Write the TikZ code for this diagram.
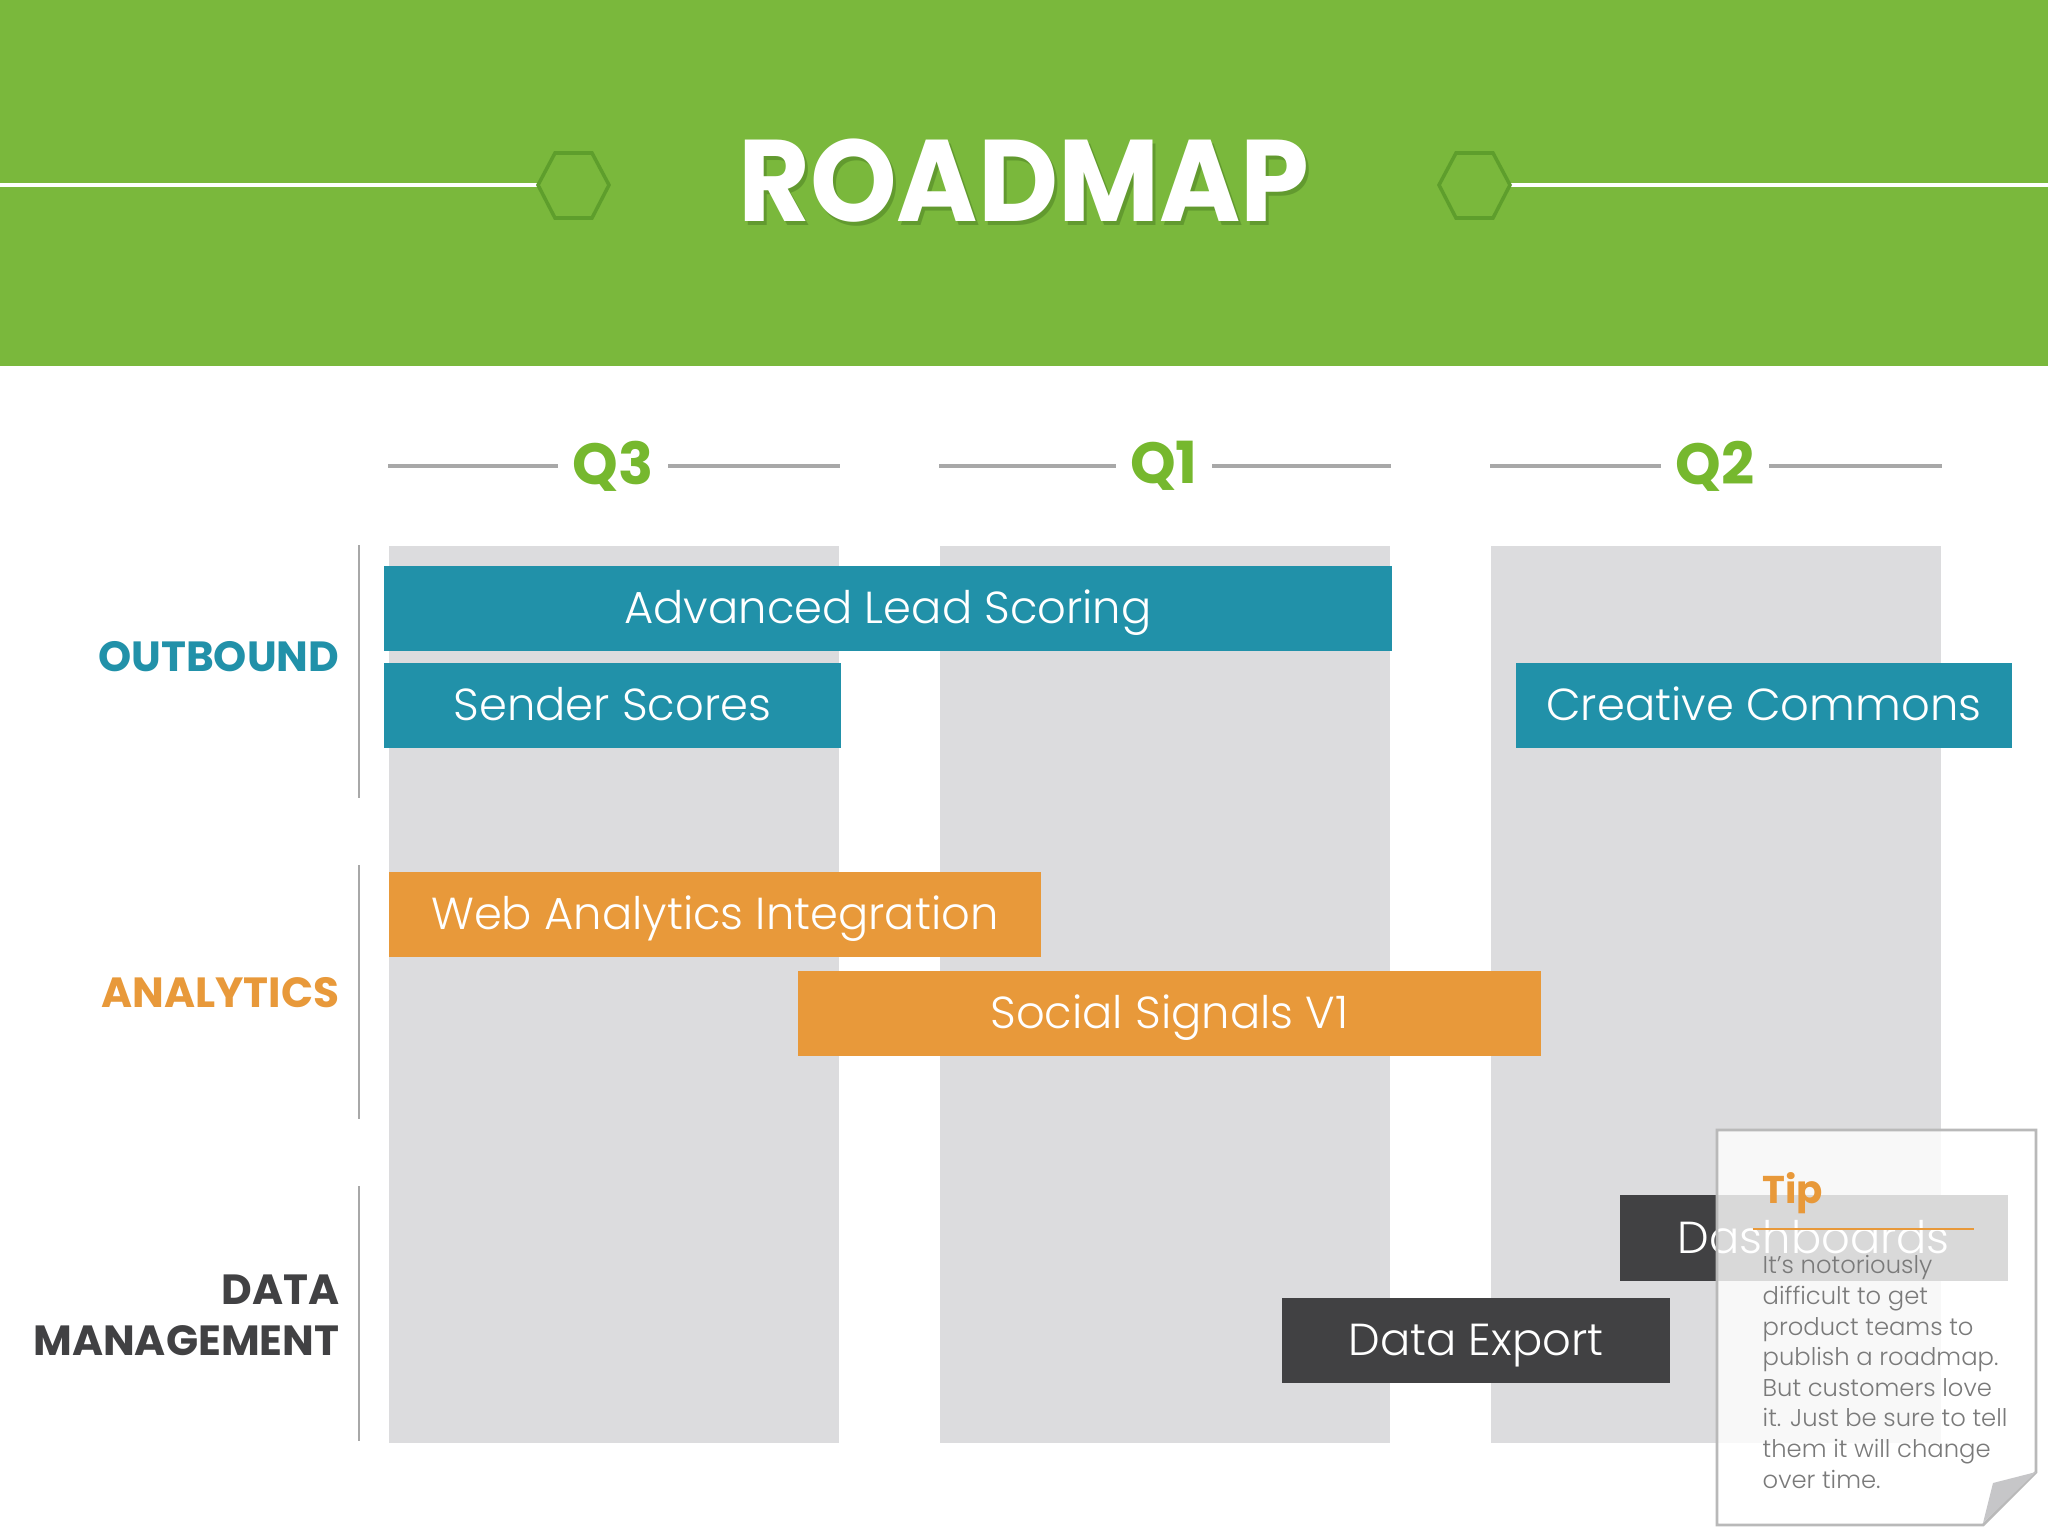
\documentclass[tikz,border=0pt]{standalone}
\usepackage{fontspec}
\setmainfont{Poppins}
\newfontfamily\lightfont{Poppins Light}
\newfontfamily\titlefont{Poppins}[FakeStretch=0.95]
\usetikzlibrary{positioning}

\definecolor{hdrgreen}{HTML}{7AB83C}
\definecolor{hexgreen}{HTML}{5E9E2C}
\definecolor{qgreen}{HTML}{76B82E}
\definecolor{tealbar}{HTML}{2191A9}
\definecolor{orangebar}{HTML}{E8993A}
\definecolor{darkbar}{HTML}{414143}
\definecolor{colgray}{HTML}{DCDCDE}
\definecolor{sepgray}{HTML}{A8A8A8}
\definecolor{tipgray}{HTML}{7A7A7A}

\begin{document}
\begin{tikzpicture}[x=0.01cm, y=-0.01cm,
		bar/.style={rectangle, anchor=north west, minimum height=0.85cm, inner sep=0pt, text height=8.9pt, text depth=0pt, text=white, font=\lightfont\fontsize{12.75}{12.75}\selectfont},
		column/.style={rectangle, anchor=north west, fill=colgray, minimum width=4.505cm, minimum height=8.97cm, inner sep=0pt},
		quarter/.style={text=qgreen, inner xsep=0.14cm, inner ysep=0pt, font=\bfseries\fontsize{16.5}{16.5}\selectfont},
		qline/.style={draw=sepgray, line width=1pt},
		rowlabel/.style={anchor=east, inner sep=0pt, align=right, font=\bfseries\fontsize{12}{14.5}\selectfont},
		hexa/.style={draw=hexgreen, line width=1pt, fill=hdrgreen}]
	
	\useasboundingbox (0,0) rectangle (2048,1536);
	\fill[white] (0,0) rectangle (2048,1536);
	\fill[hdrgreen] (0,0) rectangle (2048,366);
	
	\draw[white, line width=1pt] (0,185) -- (538,185);
	\draw[white, line width=1pt] (1510,185) -- (2048,185);
	\draw[hexa] (538,185) -- (555,153) -- (592,153) -- (609,185) -- (592,218) -- (555,218) -- cycle;
	\draw[hexa] (1439,185) -- (1456,153) -- (1493,153) -- (1510,185) -- (1493,218) -- (1456,218) -- cycle;
	\node[text=hexgreen!80!black, opacity=0.5, font=\titlefont\bfseries\fontsize{33}{33}\selectfont] at (1027,185) {ROADMAP};
	\node[text=white, font=\titlefont\bfseries\fontsize{33}{33}\selectfont] (title) at (1024,181) {ROADMAP};
	
	\foreach \x/\q/\name in {388/Q3/q3, 939/Q1/q1, 1490/Q2/q2} {
		\node[column] (\name col) at (\x,545) {};
		\node[quarter] (\name) at (\x+225,466) {\q};
		\draw[qline] (\name col.north west |- \name) -- (\name.west);
		\draw[qline] (\name.east) -- (\name col.north east |- \name);
	}
	
	\draw[sepgray, line width=0.7pt] (359,545) -- (359,798);
	\draw[sepgray, line width=0.7pt] (359,865) -- (359,1119);
	\draw[sepgray, line width=0.7pt] (359,1186) -- (359,1441);
	
	\node[rowlabel, text=tealbar] (outbound) at (340,657) {OUTBOUND};
	\node[rowlabel, text=orangebar] (analytics) at (340,993) {ANALYTICS};
	\node[rowlabel, text=darkbar] (datamgmt) at (340,1315) {DATA\\MANAGEMENT};
	
	\node[bar, fill=tealbar, minimum width=10.08cm] (leadscoring) at (383,565) {Advanced Lead Scoring};
	\node[bar, fill=tealbar, minimum width=4.57cm] (senderscores) at (383,662) {Sender Scores};
	\node[bar, fill=tealbar, minimum width=4.96cm] (creative) at (1515,662) {Creative Commons};
	\node[bar, fill=orangebar, minimum width=6.52cm] (webanalytics) at (388,871) {Web Analytics Integration};
	\node[bar, fill=orangebar, minimum width=7.43cm] (social) at (797,970) {Social Signals V1};
	\node[bar, fill=darkbar, minimum width=3.88cm, minimum height=0.86cm] (dashboards) at (1619,1194) {Dashboards};
	\node[bar, fill=darkbar, minimum width=3.88cm] (dataexport) at (1281,1297) {Data Export};
	
	\fill[white, fill opacity=0.8] (1717,1130) -- (2036,1130) -- (2036,1472) -- (1983,1525) -- (1717,1525) -- cycle;
	\draw[sepgray!80, line width=0.8pt] (1717,1130) -- (2036,1130) -- (2036,1472) -- (1983,1525) -- (1717,1525) -- cycle;
	\fill[colgray!90!black] (2036,1472) -- (1993,1483) -- (1983,1523) -- cycle;
	
	\node[anchor=base west, inner sep=0pt, text=orangebar, font=\bfseries\fontsize{11}{11}\selectfont] (tip) at (1762,1203) {Tip};
	\draw[orangebar, line width=0.8pt] (1753,1229) -- (1974,1229);
	\node[anchor=north west, inner sep=0pt, align=left, text=tipgray, font=\lightfont\fontsize{6.9}{8.7}\selectfont] (tiptext) at (1762,1255)
		{It’s notoriously\\difficult to get\\product teams to\\publish a roadmap.\\But customers love\\it. Just be sure to tell\\them it will change\\over time.};
\end{tikzpicture}
\end{document}
